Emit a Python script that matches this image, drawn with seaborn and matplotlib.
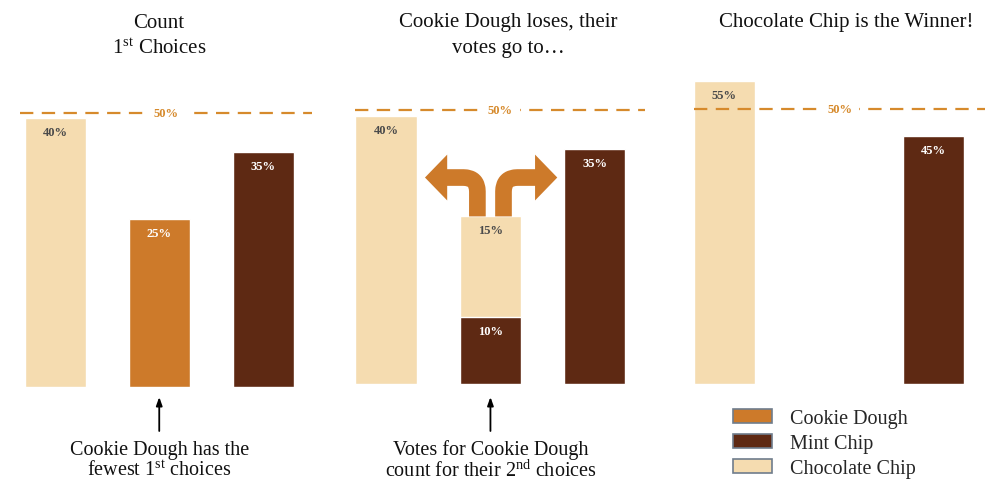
import matplotlib
matplotlib.use("Agg")
import matplotlib.pyplot as plt
import matplotlib.transforms as mtransforms
from matplotlib.patches import Patch, FancyArrowPatch
import seaborn as sns
import pandas as pd

# ---------------- data ----------------
flavors = ["Chocolate Chip", "Cookie Dough", "Mint Chip"]
first_choice = [40, 25, 35]                 # round 1 shares (%)
round2_base = [40, 25, 35]                  # round 2 totals (%) (cookie dough bar = redistributed votes)
cookie_to_mint = [10]                       # cookie dough votes going to Mint Chip (%)
cookie_to_choc = [15]                       # cookie dough votes going to Chocolate Chip (%)
final_flavors = ["Chocolate Chip", "Mint Chip"]
final_share = [55, 45]
majority_label = "50%"
majority_line = [40.8, 40.8, 50]

titles = ["Count\n1$^{\\rm st}$ Choices",
          "Cookie Dough loses, their\nvotes go to\u2026",
          "Chocolate Chip is the Winner!"]
notes = [["Cookie Dough has the", "fewest 1$^{\\rm st}$ choices"],
         ["Votes for Cookie Dough", "count for their 2$^{\\rm nd}$ choices"]]
legend_labels = ["Cookie Dough", "Mint Chip", "Chocolate Chip"]

C_LIGHT = "#F5DCB0"
C_ORANGE = "#CD7A2A"
C_BROWN = "#5E2913"
C_LINE = "#D68A2C"
palette = {"Chocolate Chip": C_LIGHT, "Cookie Dough": C_ORANGE, "Mint Chip": C_BROWN}
label_color = {C_LIGHT: "#4a4a4a", C_ORANGE: "white", C_BROWN: "white"}

sns.set_style("white")
plt.rcParams["font.family"] = ["Liberation Serif", "DejaVu Serif"]
plt.rcParams["mathtext.fontset"] = "custom"
plt.rcParams["mathtext.rm"] = "Liberation Serif"
plt.rcParams["mathtext.it"] = "Liberation Serif:italic"
plt.rcParams["mathtext.bf"] = "Liberation Serif:bold"

W, H = 994, 481
fig = plt.figure(figsize=(W / 100, H / 100), dpi=100)

def px_axes(x0, x1, ybot, ytop):
    return fig.add_axes([x0 / W, 1 - ybot / H, (x1 - x0) / W, (ybot - ytop) / H])

ax1 = px_axes(20, 312, 388, 82)
ax2 = px_axes(355, 645, 385, 82)
ax3 = px_axes(694, 985, 385, 72)

BW = 0.585

def bar_label(ax, x, top, text, color):
    ax.annotate(text, xy=(x, top), xytext=(0, -10), textcoords="offset points",
                ha="center", va="center", fontsize=9, fontweight="bold", color=color)

# panel 1
df1 = pd.DataFrame({"flavor": flavors, "share": first_choice})
sns.barplot(data=df1, x="flavor", y="share", hue="flavor", palette=palette,
            order=flavors, width=BW, legend=False, ax=ax1, saturation=1)
for i, v in enumerate(first_choice):
    c = palette[flavors[i]]
    bar_label(ax1, i, v, f"{v}%", label_color[c])

# panel 2 (stacked: total of cookie dough bar in light, mint part in brown on top)
cols2 = [C_LIGHT, C_LIGHT, C_BROWN]
df2 = pd.DataFrame({"flavor": flavors, "share": round2_base})
sns.barplot(data=df2, x="flavor", y="share", hue="flavor",
            palette=dict(zip(flavors, cols2)), order=flavors, width=BW,
            legend=False, ax=ax2, saturation=1)
df2b = pd.DataFrame({"flavor": ["Cookie Dough"], "share": cookie_to_mint})
sns.barplot(data=df2b, x="flavor", y="share", color=C_BROWN, order=flavors,
            width=BW, ax=ax2, saturation=1)
bar_label(ax2, 0, round2_base[0], f"{round2_base[0]}%", label_color[C_LIGHT])
bar_label(ax2, 2, round2_base[2], f"{round2_base[2]}%", label_color[C_BROWN])
bar_label(ax2, 1, round2_base[1], f"{cookie_to_choc[0]}%", label_color[C_LIGHT])
bar_label(ax2, 1, cookie_to_mint[0], f"{cookie_to_mint[0]}%", label_color[C_BROWN])

# panel 3
order3 = ["Chocolate Chip", "Cookie Dough", "Mint Chip"]
df3 = pd.DataFrame({"flavor": final_flavors, "share": final_share})
sns.barplot(data=df3, x="flavor", y="share", hue="flavor", palette=palette,
            order=order3, width=BW, legend=False, ax=ax3, saturation=1)
for f, v in zip(final_flavors, final_share):
    bar_label(ax3, order3.index(f), v, f"{v}%", label_color[palette[f]])

lims = [(-0.34, 2.47, 45.5), (-0.297, 2.48, 45.2), (-0.29, 2.49, 56.9)]
for ax, (xa, xb, yt), lvl in zip([ax1, ax2, ax3], lims, majority_line):
    ax.set_xlim(xa, xb)
    ax.set_ylim(0, yt)
    ax.axhline(lvl, color=C_LINE, lw=1.6, ls=(0, (6, 3.8)), zorder=1)
    ax.text((xa + xb) / 2, lvl, majority_label, ha="center", va="center",
            fontsize=9, fontweight="bold", color=C_LINE, zorder=3,
            bbox=dict(facecolor="white", edgecolor="none", pad=5))
    ax.set_axis_off()

# titles
title_x = [159, 508, 846]
for t, x in zip(titles, title_x):
    lines = t.split("\n")
    for k, line in enumerate(lines):
        fig.text(x / W, 1 - (23 + 26 * k) / H, line, ha="center", va="center",
                 fontsize=15, color="#111111")

# bottom notes with arrows
for ax, note in zip([ax1, ax2], notes):
    tr = mtransforms.blended_transform_factory(ax.transData, fig.transFigure)
    ax.annotate("", xy=(1, 1 - 398 / H), xytext=(1, 1 - 432 / H),
                xycoords=tr, textcoords=tr, annotation_clip=False,
                arrowprops=dict(arrowstyle="-|>,head_length=0.5,head_width=0.18",
                                color="black", lw=1.3, mutation_scale=10,
                                shrinkA=0, shrinkB=0))
    for k, line in enumerate(note):
        ax.text(1, 1 - (450 + 21 * k) / H, line, transform=tr, ha="center",
                va="center", fontsize=14.5, color="#111111")

# orange split arrows in panel 2
for stem_x, tip_x, corner_end in [(0.875, 0.373, 0.52), (1.125, 1.64, 1.49)]:
    curve = FancyArrowPatch(posA=(stem_x, round2_base[1]), posB=(corner_end, 30.8),
                            arrowstyle="-", connectionstyle="angle,angleA=90,angleB=0,rad=14",
                            lw=12, color=C_ORANGE, shrinkA=0, shrinkB=0,
                            capstyle="butt", zorder=4)
    ax2.add_patch(curve)
    head = FancyArrowPatch(posA=(corner_end + (0.02 if tip_x < stem_x else -0.02), 30.8),
                           posB=(tip_x, 30.8),
                           arrowstyle="simple,head_length=1.6,head_width=3.3,tail_width=1.1",
                           mutation_scale=10, lw=0, color=C_ORANGE, shrinkA=0, shrinkB=0,
                           zorder=4)
    ax2.add_patch(head)

# legend
handles = [Patch(facecolor=palette[l], edgecolor="#6f7d8c", lw=1.2) for l in legend_labels]
fig.legend(handles, legend_labels, loc="upper left",
           bbox_to_anchor=(733 / W, 1 - 410 / H), frameon=False, fontsize=14.5,
           handlelength=1.95, handleheight=0.65, handletextpad=0.9,
           labelspacing=0.3, borderpad=0, borderaxespad=0)

fig.savefig("out.png", dpi=100, facecolor="white")
